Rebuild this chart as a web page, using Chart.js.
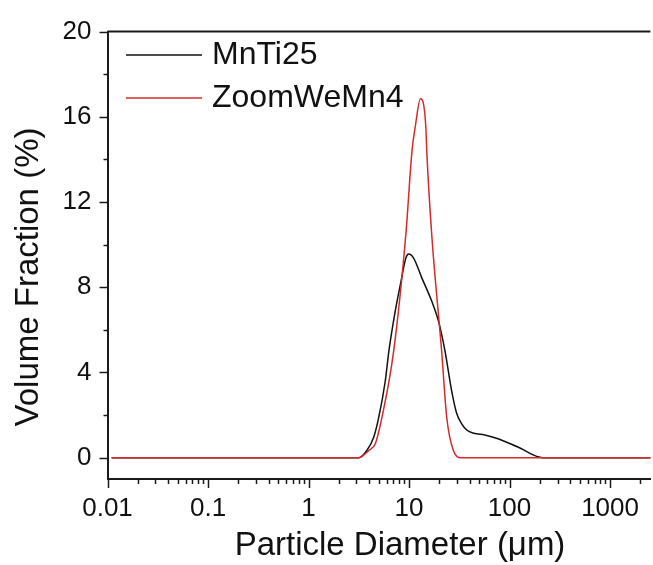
<!DOCTYPE html>
<html lang="en">
<head>
    <meta charset="UTF-8">
    <title>Particle size distribution</title>
    <script src="https://cdn.jsdelivr.net/npm/chart.js"></script>
    <style>
        body { margin: 0; background: #fff; }
        #box { width: 653px; height: 565px; }
    </style>
</head>
<body>

<div id="box"><canvas id="graficoPSD"></canvas></div>

<script>
    // MnTi25 (black)
    const diamMnTi = [0.011, 1, 3.16, 3.8, 4.45, 5.0, 5.8, 6.3, 7.3, 8.2, 9.3, 9.9, 11.1, 13.4, 16.8, 19.6, 22.8, 26.5, 29.7, 33.3, 37.5, 44, 56.8, 76.9, 121, 215, 1000, 2600];
    const volMnTi  = [0, 0, 0, 0.34, 0.96, 1.9, 3.6, 5.0, 6.9, 8.13, 9.37, 9.56, 9.37, 8.44, 7.35, 6.42, 5.0, 3.15, 2.1, 1.6, 1.3, 1.15, 1.07, 0.89, 0.5, 0, 0, 0];

    // ZoomWeMn4 (red)
    const diamZoom = [0.011, 1, 3.16, 3.97, 4.63, 5.38, 7.03, 9.3, 10.7, 11.5, 13.0, 14.7, 15.0, 16.8, 21.1, 23.7, 27.6, 33.1, 1000, 2600];
    const volZoom  = [0, 0, 0, 0.34, 0.67, 1.9, 5.0, 10.5, 14.4, 15.5, 16.85, 15.5, 14.4, 10.5, 5.0, 1.9, 0.34, 0, 0, 0];

    const xLabels = [0.01, 0.1, 1, 10, 100, 1000];
    const yLabels = [0, 4, 8, 12, 16, 20];

    const fonte = '"Liberation Sans", Arial, sans-serif';
    const corEixo = '#1a1a1a';

    function pontos(xs, ys) {
        return xs.map((x, i) => ({ x: x, y: ys[i] }));
    }

    // ticks ao longo do eixo log: 1..9 x 10^n
    const xTicks = [];
    for (let e = -2; e <= 3; e++) {
        for (let m = 1; m <= 9; m++) {
            const v = +(m * Math.pow(10, e)).toPrecision(3);
            if (v <= 2518) xTicks.push(v);
        }
    }

    const extras = {
        id: 'extras',
        afterDraw(chart) {
            const ctx = chart.ctx;
            const a = chart.chartArea;
            const sx = chart.scales.x, sy = chart.scales.y;
            ctx.save();
            ctx.strokeStyle = corEixo;
            ctx.lineWidth = 2;
            // linha de cima
            ctx.beginPath();
            ctx.moveTo(a.left, a.top);
            ctx.lineTo(a.right, a.top);
            ctx.stroke();
            // ticks x
            ctx.lineWidth = 1.5;
            xTicks.forEach(v => {
                const px = Math.round(sx.getPixelForValue(v)) + 0.5;
                const major = xLabels.includes(v);
                ctx.beginPath();
                ctx.moveTo(px, a.bottom);
                ctx.lineTo(px, a.bottom + (major ? 9 : 5));
                ctx.stroke();
            });
            // ticks y
            for (let v = 0; v <= 20; v += 2) {
                const py = Math.round(sy.getPixelForValue(v)) + 0.5;
                const major = yLabels.includes(v);
                ctx.beginPath();
                ctx.moveTo(a.left, py);
                ctx.lineTo(a.left - (major ? 8 : 4), py);
                ctx.stroke();
            }
            // titulos dos eixos
            ctx.fillStyle = '#111';
            ctx.font = '33px ' + fonte;
            ctx.textAlign = 'center';
            ctx.textBaseline = 'middle';
            ctx.fillText('Particle Diameter (\u03bcm)', 400, 546);
            ctx.save();
            ctx.translate(29, 277);
            ctx.rotate(-Math.PI / 2);
            ctx.fillText('Volume Fraction (%)', 0, 0);
            ctx.restore();
            // legenda
            ctx.font = '32px ' + fonte;
            ctx.textAlign = 'left';
            const linhasY = [55, 98];
            [0, 1].forEach(i => {
                const ds = chart.data.datasets[i];
                ctx.strokeStyle = ds.borderColor;
                ctx.lineWidth = 1.5;
                ctx.beginPath();
                ctx.moveTo(126, linhasY[i]);
                ctx.lineTo(202, linhasY[i]);
                ctx.stroke();
                ctx.fillStyle = '#111';
                ctx.fillText(ds.label, 212, linhasY[i]);
            });
            ctx.restore();
        }
    };

    const ctx = document.getElementById('graficoPSD').getContext('2d');
    const grafico = new Chart(ctx, {
        type: 'scatter',
        data: {
            datasets: [{
                label: 'MnTi25',
                data: pontos(diamMnTi, volMnTi),
                borderColor: '#111111',
                borderWidth: 1.5,
                showLine: true,
                pointRadius: 0,
                cubicInterpolationMode: 'monotone',
                order: 2
            }, {
                label: 'ZoomWeMn4',
                data: pontos(diamZoom, volZoom),
                borderColor: '#d42a2a',
                borderWidth: 1.5,
                showLine: true,
                pointRadius: 0,
                cubicInterpolationMode: 'monotone',
                order: 1
            }]
        },
        options: {
            responsive: true,
            maintainAspectRatio: false,
            animation: false,
            layout: { padding: { top: 29, right: 0, left: 0, bottom: 0 } },
            plugins: {
                legend: { display: false },
                tooltip: { enabled: false }
            },
            scales: {
                x: {
                    type: 'logarithmic',
                    min: 0.01,
                    max: 2518,
                    afterBuildTicks: s => { s.ticks = xLabels.map(v => ({ value: v })); },
                    afterFit: s => { s.height = 86; },
                    grid: { display: false, drawTicks: false },
                    border: { display: true, color: corEixo, width: 2 },
                    ticks: {
                        autoSkip: false,
                        maxRotation: 0,
                        padding: 14,
                        color: '#111',
                        font: { family: fonte, size: 26 },
                        callback: v => xLabels.includes(v) ? String(v) : ''
                    }
                },
                y: {
                    min: -1,
                    max: 20,
                    afterBuildTicks: s => { s.ticks = yLabels.map(v => ({ value: v })); },
                    afterFit: s => { s.width = 107.5; },
                    grid: { display: false, drawTicks: false },
                    border: { display: true, color: corEixo, width: 2 },
                    ticks: {
                        padding: 16,
                        color: '#111',
                        font: { family: fonte, size: 26 },
                        callback: v => String(v)
                    }
                }
            }
        },
        plugins: [extras]
    });
</script>

</body>
</html>
